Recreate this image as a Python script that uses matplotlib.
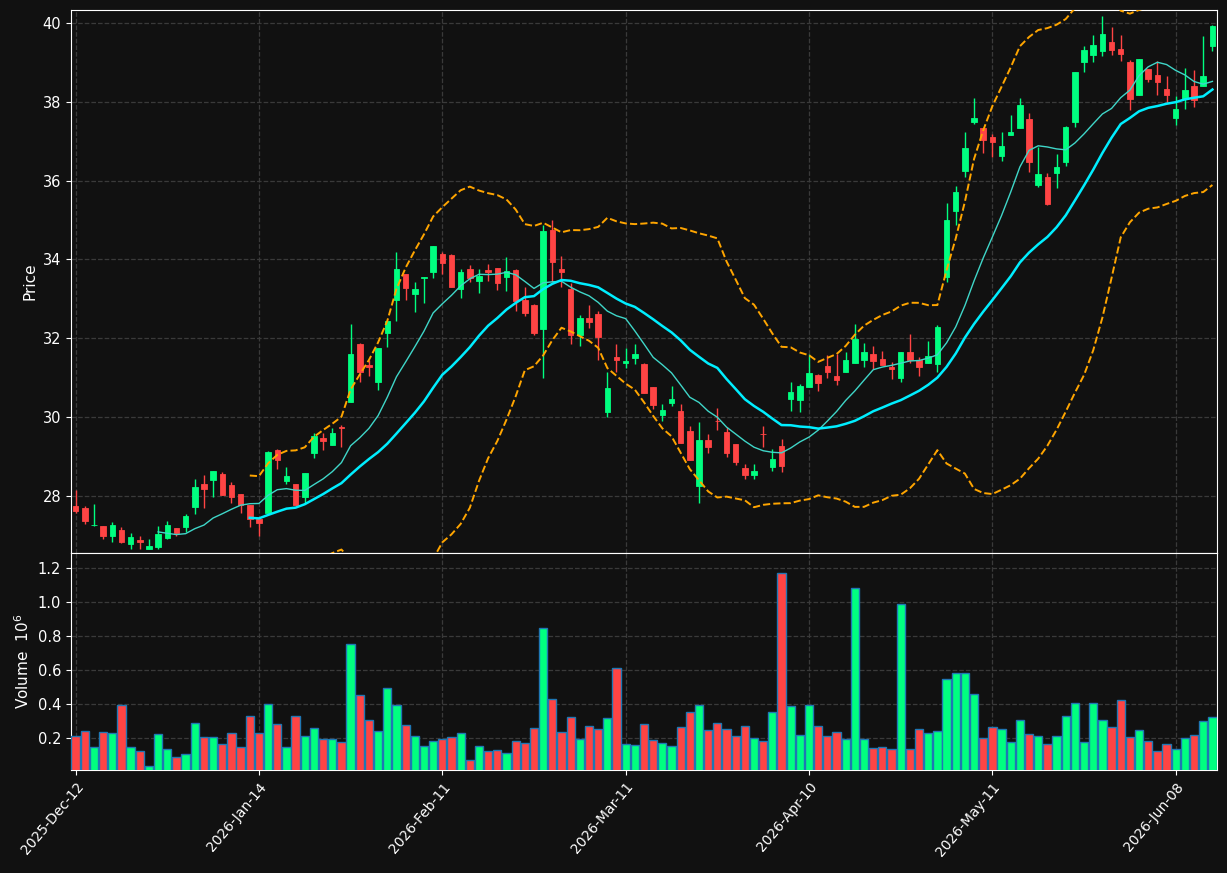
import numpy as np
import pandas as pd
import matplotlib
matplotlib.use("Agg")
import matplotlib.pyplot as plt

# ── OHLC + volume (volume in millions) ───────────────────────────────────────
OPEN = [27.75, 27.70, 27.25, 27.24, 26.99, 27.14, 26.77, 26.87, 26.66, 26.70,
        26.94, 27.19, 27.21, 27.73, 28.30, 28.41, 28.56, 28.28, 28.05, 27.77,
        27.42, 27.56, 29.17, 28.38, 28.30, 27.98, 29.09, 29.47, 29.29, 29.75,
        30.37, 31.86, 31.31, 30.90, 32.14, 32.96, 33.64, 33.13, 33.53, 33.67,
        34.14, 34.11, 33.26, 33.76, 33.46, 33.72, 33.78, 33.56, 33.73, 32.97,
        32.85, 32.24, 34.75, 33.76, 33.25, 32.09, 32.51, 32.62, 30.14, 31.52,
        31.36, 31.51, 31.35, 30.75, 30.05, 30.36, 30.16, 29.65, 28.24, 29.42,
        29.91, 29.62, 29.31, 28.71, 28.52, 29.57, 28.72, 29.27, 30.47, 30.44,
        30.76, 31.07, 31.30, 31.04, 31.15, 31.38, 31.45, 31.60, 31.48, 31.26,
        31.00, 31.65, 31.44, 31.36, 31.35, 33.55, 35.24, 36.25, 37.50, 37.33,
        37.10, 36.63, 37.17, 37.34, 37.56, 35.89, 36.08, 36.20, 36.48, 37.50,
        39.01, 39.20, 39.30, 39.52, 39.34, 39.01, 38.18, 38.83, 38.68, 38.32,
        37.59, 38.07, 38.39, 38.39, 39.41]
HIGH = [28.15, 27.75, 27.80, 27.24, 27.34, 27.20, 27.05, 26.98, 26.90, 27.24,
        27.37, 27.19, 27.54, 28.43, 28.53, 28.63, 28.60, 28.34, 28.05, 27.77,
        27.42, 29.15, 29.18, 28.74, 28.30, 28.58, 29.59, 29.59, 29.73, 29.79,
        32.36, 31.89, 31.45, 31.75, 32.44, 34.18, 33.64, 33.44, 33.56, 34.35,
        34.20, 34.14, 33.76, 33.86, 33.76, 33.89, 33.78, 34.07, 33.75, 33.29,
        32.88, 34.87, 35.00, 34.09, 33.39, 32.59, 32.85, 32.70, 31.14, 31.85,
        31.74, 31.85, 31.37, 30.77, 30.33, 30.79, 30.33, 29.78, 29.87, 29.56,
        30.22, 29.74, 29.31, 28.81, 28.80, 29.78, 29.18, 29.45, 30.89, 30.84,
        31.59, 31.09, 31.58, 31.59, 31.66, 32.36, 31.87, 31.81, 31.68, 31.39,
        31.65, 32.11, 31.53, 31.92, 32.33, 35.42, 35.86, 37.23, 38.09, 37.33,
        37.18, 37.23, 37.67, 38.09, 37.71, 36.85, 36.19, 36.67, 37.39, 38.76,
        39.41, 39.69, 40.17, 39.90, 39.69, 39.06, 39.09, 38.83, 39.03, 38.65,
        38.14, 38.86, 38.80, 39.66, 39.95]
LOW = [27.56, 27.28, 27.24, 26.90, 26.82, 26.80, 26.66, 26.66, 26.64, 26.64,
       26.91, 26.97, 27.09, 27.53, 27.68, 27.98, 28.03, 27.81, 27.56, 27.22,
       26.97, 27.56, 28.69, 28.30, 27.77, 27.81, 28.95, 29.17, 29.29, 29.25,
       30.37, 30.88, 31.03, 30.69, 31.77, 32.44, 32.96, 32.66, 32.89, 33.54,
       33.62, 33.30, 33.03, 33.44, 33.14, 33.46, 33.23, 33.21, 32.68, 32.57,
       32.07, 31.00, 33.44, 33.31, 31.85, 31.81, 32.25, 31.44, 30.00, 31.14,
       31.24, 31.34, 30.62, 30.21, 29.89, 30.28, 29.33, 28.91, 27.81, 29.10,
       29.67, 28.98, 28.79, 28.42, 28.42, 29.25, 28.64, 28.60, 30.15, 30.14,
       30.76, 30.65, 31.00, 30.82, 31.15, 31.37, 31.28, 31.22, 31.32, 30.97,
       30.88, 31.37, 31.05, 31.36, 31.15, 33.44, 34.87, 36.08, 37.43, 36.69,
       36.61, 36.51, 37.17, 37.34, 36.23, 35.85, 35.38, 35.82, 36.37, 37.37,
       38.75, 39.00, 39.15, 39.18, 39.03, 37.79, 38.18, 38.50, 38.17, 37.98,
       37.40, 37.83, 37.87, 38.39, 39.29]
CLOSE = [27.62, 27.37, 27.26, 26.97, 27.26, 26.84, 26.95, 26.82, 26.73, 27.04,
         27.26, 27.05, 27.49, 28.23, 28.18, 28.63, 28.03, 27.96, 27.76, 27.42,
         27.32, 29.12, 28.91, 28.51, 27.77, 28.58, 29.52, 29.40, 29.59, 29.73,
         31.60, 31.15, 31.28, 31.75, 32.44, 33.76, 33.28, 33.25, 33.56, 34.35,
         33.92, 33.30, 33.68, 33.54, 33.59, 33.69, 33.39, 33.71, 32.95, 32.65,
         32.14, 34.72, 33.94, 33.69, 32.07, 32.51, 32.40, 32.04, 30.73, 31.46,
         31.42, 31.60, 30.62, 30.31, 30.18, 30.46, 29.33, 28.91, 29.42, 29.24,
         29.89, 29.10, 28.85, 28.52, 28.63, 29.56, 28.94, 28.77, 30.64, 30.79,
         31.11, 30.87, 31.15, 30.94, 31.45, 31.98, 31.65, 31.43, 31.32, 31.22,
         31.65, 31.45, 31.26, 31.55, 32.29, 35.00, 35.71, 36.84, 37.59, 37.03,
         36.99, 36.88, 37.23, 37.92, 36.48, 36.17, 35.41, 36.35, 37.36, 38.76,
         39.31, 39.44, 39.72, 39.32, 39.22, 38.08, 39.09, 38.59, 38.51, 38.18,
         37.81, 38.30, 38.05, 38.65, 39.92]
VOLUME = [0.210, 0.239, 0.145, 0.233, 0.225, 0.392, 0.145, 0.122, 0.033, 0.222,
          0.133, 0.086, 0.104, 0.286, 0.204, 0.204, 0.163, 0.227, 0.145, 0.327,
          0.227, 0.398, 0.280, 0.145, 0.327, 0.210, 0.257, 0.192, 0.192, 0.175,
          0.751, 0.451, 0.304, 0.239, 0.492, 0.392, 0.275, 0.210, 0.151, 0.180,
          0.192, 0.204, 0.227, 0.069, 0.151, 0.122, 0.127, 0.110, 0.180, 0.169,
          0.257, 0.845, 0.427, 0.233, 0.322, 0.192, 0.269, 0.251, 0.316, 0.610,
          0.163, 0.157, 0.280, 0.186, 0.167, 0.149, 0.263, 0.351, 0.390, 0.245,
          0.284, 0.251, 0.210, 0.269, 0.198, 0.180, 0.351, 1.169, 0.384, 0.216,
          0.390, 0.269, 0.210, 0.233, 0.192, 1.080, 0.192, 0.139, 0.145, 0.133,
          0.986, 0.133, 0.251, 0.227, 0.239, 0.545, 0.580, 0.580, 0.457, 0.198,
          0.263, 0.251, 0.175, 0.304, 0.222, 0.210, 0.163, 0.210, 0.327, 0.404,
          0.175, 0.404, 0.304, 0.263, 0.422, 0.204, 0.245, 0.180, 0.122, 0.163,
          0.133, 0.198, 0.216, 0.298, 0.322]
TICK_POS = [0, 20, 40, 60, 80, 100, 120]
TICK_LABELS = ["2025-Dec-12", "2026-Jan-14", "2026-Feb-11", "2026-Mar-11",
               "2026-Apr-10", "2026-May-11", "2026-Jun-08"]

BG = "#111111"
UP, DOWN = "#00ff80", "#ff4444"
GRID = "#3a3a3a"

df = pd.DataFrame({"o": OPEN, "h": HIGH, "l": LOW, "c": CLOSE, "v": VOLUME})
x = np.arange(len(df))
up = df["c"] >= df["o"]
cols = np.where(up, UP, DOWN)
ma10 = df["c"].rolling(10).mean()
ma20 = df["c"].rolling(20).mean()
sd20 = df["c"].rolling(20).std()

fig = plt.figure(figsize=(12.27, 8.73), dpi=100, facecolor=BG)
ax = fig.add_axes([71 / 1227, 1 - 553 / 873, 1146 / 1227, 543 / 873])
axv = fig.add_axes([71 / 1227, 1 - 770 / 873, 1146 / 1227, 217 / 873], sharex=ax)

for a in (ax, axv):
    a.set_facecolor(BG)
    a.grid(True, ls="--", color=GRID, lw=0.9)
    a.set_axisbelow(True)
    for sp in a.spines.values():
        sp.set_color("white")
    a.tick_params(colors="white", labelsize=10.5)

# candles
ax.vlines(x, df["l"], df["h"], colors=cols, lw=1.0, zorder=3)
bot = np.minimum(df["o"], df["c"])
hgt = np.maximum(np.abs(df["c"] - df["o"]), 0.02)
ax.bar(x, hgt, bottom=bot, width=0.6, color=cols, edgecolor=cols, lw=0.6, zorder=4)

# moving averages and bands
ax.plot(x, ma10, color="#3fd6c8", lw=1.0, zorder=5)
ax.plot(x, ma20, color="#00eeff", lw=1.8, zorder=5)
ax.plot(x, ma20 + 2 * sd20, color="orange", lw=1.4, ls="--", zorder=5)
ax.plot(x, ma20 - 2 * sd20, color="orange", lw=1.4, ls="--", zorder=5)

ax.set_ylim(26.55, 40.33)
ax.set_ylabel("Price", color="white", fontsize=11)
ax.tick_params(labelbottom=False)

# volume
axv.bar(x, df["v"], width=0.9, color=cols, edgecolor="#1f77b4", lw=1.0, zorder=3)
axv.set_ylim(0.3 * min(VOLUME), 1.1 * max(VOLUME))
axv.set_yticks([0.2, 0.4, 0.6, 0.8, 1.0, 1.2])
axv.set_ylabel(r"Volume  $10^{6}$", color="white", fontsize=11)

axv.set_xlim(-0.5, len(df) - 0.5)
axv.set_xticks(TICK_POS)
axv.set_xticklabels(TICK_LABELS, rotation=50, ha="right", rotation_mode="anchor",
                    fontsize=10)

fig.savefig("out.png", dpi=100, facecolor=BG)
